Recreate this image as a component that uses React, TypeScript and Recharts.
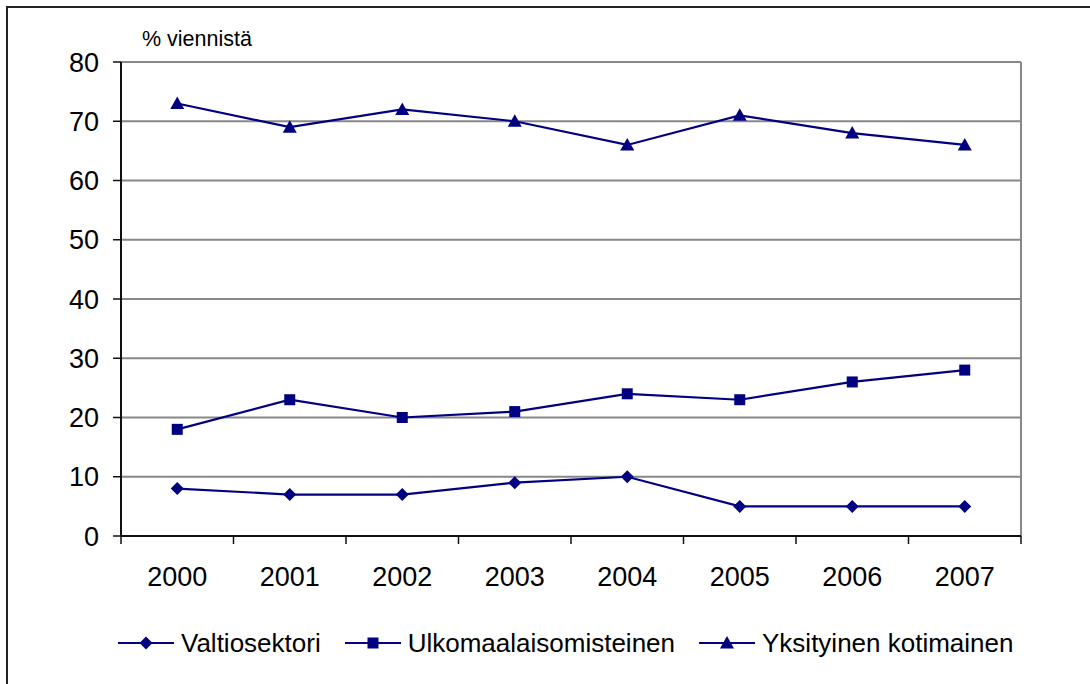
import { CartesianGrid, Legend, Line, LineChart, ReferenceLine, XAxis, YAxis } from 'recharts';

const years = ['2000', '2001', '2002', '2003', '2004', '2005', '2006', '2007'];
const valtiosektori = [8, 7, 7, 9, 10, 5, 5, 5];
const ulkomaalaisomisteinen = [18, 23, 20, 21, 24, 23, 26, 28];
const yksityinenKotimainen = [73, 69, 72, 70, 66, 71, 68, 66];
const yTicks = [0, 10, 20, 30, 40, 50, 60, 70, 80];

const FONT = '"Liberation Sans", Arial, sans-serif';
const NAVY = '#000080';
const AXIS = '#111';
const GRID = '#888';

type Marker = 'diamond' | 'square' | 'triangle';

const series: { key: string; name: string; marker: Marker }[] = [
  { key: 'valtio', name: 'Valtiosektori', marker: 'diamond' },
  { key: 'ulko', name: 'Ulkomaalaisomisteinen', marker: 'square' },
  { key: 'yks', name: 'Yksityinen kotimainen', marker: 'triangle' },
];

const data = years.map((_, i) => ({
  i,
  valtio: valtiosektori[i],
  ulko: ulkomaalaisomisteinen[i],
  yks: yksityinenKotimainen[i],
}));

// category boundaries, where the x-axis tick marks sit
const edges = [...years.map((_, i) => i - 0.5), years.length - 0.5];
const xDomain = [-0.5, years.length - 0.5];

function markerShape(marker: Marker, cx: number, cy: number, key?: string) {
  if (marker === 'diamond') {
    const r = 6.5;
    return <polygon key={key} points={`${cx},${cy - r} ${cx + r},${cy} ${cx},${cy + r} ${cx - r},${cy}`} fill={NAVY} />;
  }
  if (marker === 'square') {
    const s = 5.5;
    return <rect key={key} x={cx - s} y={cy - s} width={s * 2} height={s * 2} fill={NAVY} />;
  }
  return <polygon key={key} points={`${cx},${cy - 7} ${cx + 7},${cy + 5.5} ${cx - 7},${cy + 5.5}`} fill={NAVY} />;
}

function makeDot(marker: Marker) {
  return (props: any) => {
    const { cx, cy, index } = props;
    if (cx == null || cy == null) return <g key={`d-${marker}-${index}`} />;
    return markerShape(marker, cx, cy, `d-${marker}-${index}`);
  };
}

const emptyTick = (props: any) => <g key={`e-${props.index}`} />;

function renderLegend() {
  return (
    <div
      style={{
        height: 56,
        display: 'flex',
        alignItems: 'flex-start',
        paddingLeft: 110,
        fontFamily: FONT,
        fontSize: 26,
        color: '#000',
      }}
    >
      {series.map((s) => (
        <div key={s.key} style={{ display: 'flex', alignItems: 'center', marginTop: 38, height: 28, marginRight: 24 }}>
          <svg width={56} height={16} style={{ marginRight: 7 }}>
            <line x1={0} y1={8} x2={56} y2={8} stroke={NAVY} strokeWidth={2} />
            {markerShape(s.marker, 28, 8)}
          </svg>
          <span style={{ lineHeight: '28px', whiteSpace: 'nowrap' }}>{s.name}</span>
        </div>
      ))}
    </div>
  );
}

export default function App() {
  return (
    <div style={{ position: 'relative', width: 1076, height: 668 }}>
      <div
        style={{
          position: 'fixed',
          left: 6,
          top: 6,
          width: 1084,
          height: 678,
          boxSizing: 'border-box',
          borderTop: '2px solid #222',
          borderLeft: '2px solid #222',
          pointerEvents: 'none',
          zIndex: 2,
        }}
      />
      <LineChart
        width={1076}
        height={639}
        data={data}
        margin={{ top: 54, right: 63, bottom: 0, left: 0 }}
        style={{ fontFamily: FONT }}
      >
        <CartesianGrid
          horizontal
          vertical={false}
          horizontalValues={yTicks.filter((v) => v > 0)}
          stroke={GRID}
          strokeWidth={2}
          xAxisId="year"
        />
        <XAxis
          xAxisId="edge"
          dataKey="i"
          type="number"
          domain={xDomain}
          ticks={edges}
          height={1}
          interval={0}
          tick={emptyTick}
          tickSize={8}
          tickLine={{ stroke: AXIS, strokeWidth: 1.5 }}
          axisLine={{ stroke: AXIS, strokeWidth: 2 }}
          allowDataOverflow
        />
        <XAxis
          xAxisId="year"
          dataKey="i"
          type="number"
          domain={xDomain}
          ticks={years.map((_, i) => i)}
          tickFormatter={(v: number) => years[v] ?? ''}
          height={54}
          interval={0}
          axisLine={false}
          tickLine={false}
          tickSize={8}
          tickMargin={22}
          tick={{ fill: '#000', fontSize: 27, fontFamily: FONT }}
          allowDataOverflow
        />
        <YAxis
          domain={[0, 80]}
          ticks={yTicks}
          width={113}
          interval={0}
          tickSize={8}
          tickMargin={14}
          tickLine={{ stroke: AXIS, strokeWidth: 1.5 }}
          axisLine={{ stroke: AXIS, strokeWidth: 2 }}
          tick={{ fill: '#000', fontSize: 27, fontFamily: FONT }}
          label={{
            content: ({ viewBox }: any) => (
              <text
                x={viewBox.x + viewBox.width + 21}
                y={viewBox.y - 16}
                fontSize={21.5}
                fontFamily={FONT}
                fill="#000"
              >
                % viennistä
              </text>
            ),
          }}
        />
        <ReferenceLine xAxisId="year" x={xDomain[1]} stroke={GRID} strokeWidth={2} />
        {series.map((s) => (
          <Line
            key={s.key}
            xAxisId="year"
            dataKey={s.key}
            name={s.name}
            type="linear"
            stroke={NAVY}
            strokeWidth={2.2}
            dot={makeDot(s.marker)}
            activeDot={false}
            isAnimationActive={false}
          />
        ))}
        <Legend verticalAlign="bottom" content={renderLegend} />
      </LineChart>
    </div>
  );
}
